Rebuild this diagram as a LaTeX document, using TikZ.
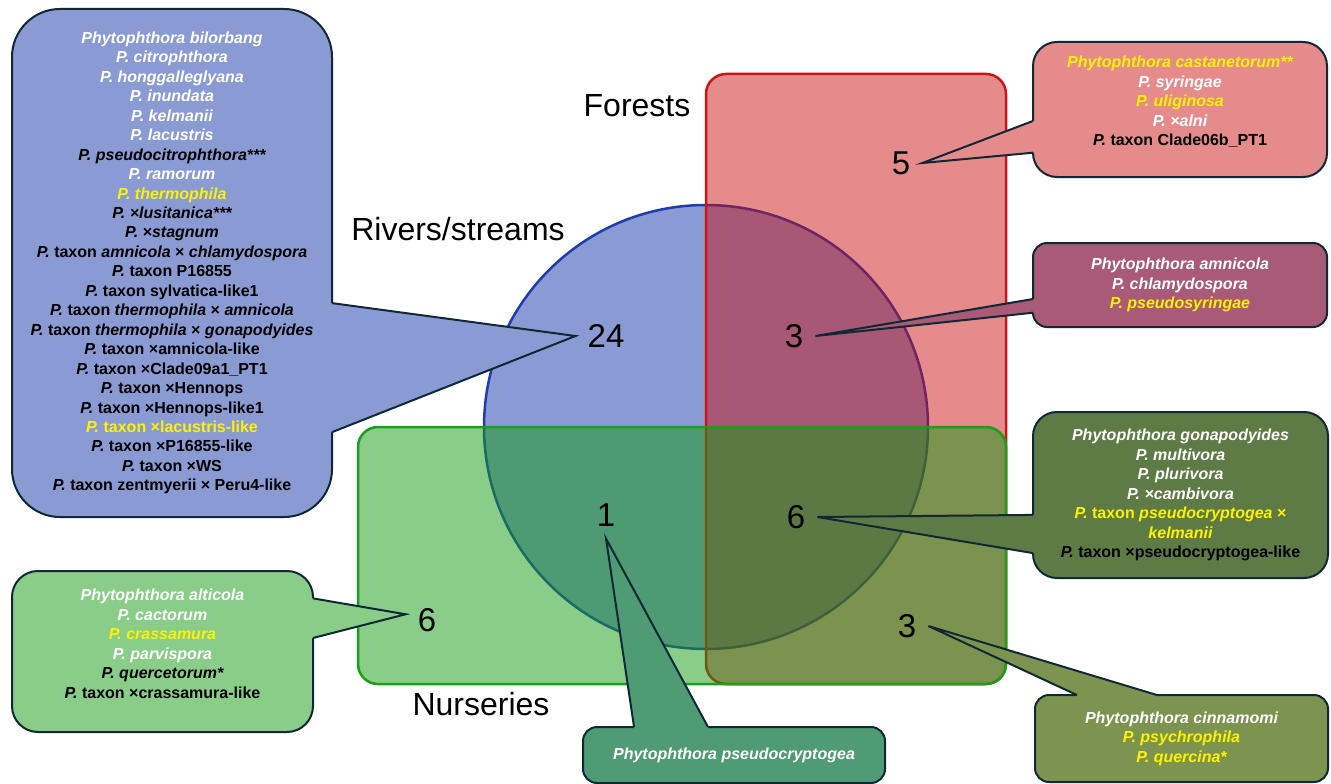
\documentclass[tikz,border=0pt]{standalone}
\usepackage{fontspec}
\setmainfont{Liberation Sans}
\usepackage{tikz}
\usetikzlibrary{calc}

\definecolor{edgecol}{RGB}{16,40,54}
\definecolor{rivline}{RGB}{30,60,180}
\definecolor{forline}{RGB}{205,20,20}
\definecolor{nurline}{RGB}{25,160,25}
\definecolor{rivfill}{RGB}{138,155,212}
\definecolor{forbase}{RGB}{201,13,13}
\definecolor{nurbase}{RGB}{19,156,19}
\definecolor{forfill}{RGB}{229,139,139}
\definecolor{nurfill}{RGB}{137,205,137}
\definecolor{rivforfill}{RGB}{168,90,118}
\definecolor{rivnurfill}{RGB}{78,155,116}
\definecolor{fornurfill}{RGB}{125,148,80}
\definecolor{allfill}{RGB}{94,123,69}

\newcommand{\spfont}{\fontsize{16}{19.45}\selectfont\bfseries\itshape}
\newcommand{\ylw}[1]{{\color{yellow}#1}}
\newcommand{\blk}[1]{{\color{black}#1}}
\newcommand{\up}[1]{\textup{#1}}
\newcommand{\tx}{\textup{taxon}}
\newcommand{\callpointer}[5]{%
  \fill[#1] ($(#2)+(#5)$) -- (#2) -- (#3) -- (#4) -- ($(#4)+(#5)$) -- cycle;
  \draw[callout line] (#2) -- (#3) -- (#4);}

\begin{document}
\begin{tikzpicture}[x=1pt,y=-1pt,
    callout line/.style={draw=edgecol, line width=2pt},
    listbox/.style={callout line, align=center, font=\spfont, text=white, outer sep=0pt, inner sep=4pt},
    count/.style={font=\fontsize{33}{40}\selectfont, inner sep=12pt},
    setlabel/.style={font=\fontsize{32}{38}\selectfont}]
  \useasboundingbox (0,0) rectangle (1331,784);

  \filldraw[fill=rivfill, draw=rivline, line width=2.5pt] (706,427) circle[radius=222pt];
  \filldraw[fill=forbase, fill opacity=0.48, draw=forline, line width=2.5pt, rounded corners=20pt] (706,74) rectangle (1006,684);
  \filldraw[fill=nurbase, fill opacity=0.5, draw=nurline, line width=2.5pt, rounded corners=20pt] (358,427) rectangle (1006,684);

  \node[setlabel] (forlab) at (637,106) {Forests};
  \node[setlabel] (rivlab) at (458,229) {Rivers/streams};
  \node[setlabel] (nurlab) at (481,704) {Nurseries};

  \node[count] (nfor) at (901,163) {5};
  \node[count] (nriv) at (606,336) {24};
  \node[count] (nrivfor) at (794,336) {3};
  \node[count] (nrivnur) at (606,515) {1};
  \node[count] (nall) at (796,517) {6};
  \node[count] (nnur) at (427,620) {6};
  \node[count] (nfornur) at (907,626) {3};

  \node[listbox, fill=rivfill, rounded corners=48pt, minimum width=320pt, minimum height=508pt] (rivbox) at (172,263) {%
    Phytophthora bilorbang\\
    P. citrophthora\\
    P. honggalleglyana\\
    P. inundata\\
    P. kelmanii\\
    P. lacustris\\
    \blk{P. pseudocitrophthora***}\\
    P. ramorum\\
    \ylw{P. thermophila}\\
    \blk{P. ×lusitanica***}\\
    \blk{P. ×stagnum}\\
    \blk{P. \tx{} amnicola \up{×} chlamydospora}\\
    \blk{P. \up{taxon P16855}}\\
    \blk{P. \up{taxon sylvatica-like1}}\\
    \blk{P. \tx{} thermophila \up{×} amnicola}\\
    \blk{P. \tx{} thermophila \up{×} gonapodyides}\\
    \blk{P. \up{taxon ×amnicola-like}}\\
    \blk{P. \up{taxon ×Clade09a1\_PT1}}\\
    \blk{P. \up{taxon ×Hennops}}\\
    \blk{P. \up{taxon ×Hennops-like1}}\\
    \ylw{P. \up{taxon ×lacustris-like}}\\
    \blk{P. \up{taxon ×P16855-like}}\\
    \blk{P. \up{taxon ×WS}}\\
    \blk{P. \up{taxon zentmyerii × Peru4-like}}};
  \node[listbox, fill=forfill, rounded corners=24pt, minimum width=294pt, minimum height=135pt, text depth=17pt] (forbox) at (1180,109.5) {%
    \ylw{Phytophthora castanetorum**}\\
    P. syringae\\
    \ylw{P. uliginosa}\\
    P. ×alni\\
    \blk{P. \up{taxon Clade06b\_PT1}}};
  \node[listbox, fill=rivforfill, rounded corners=14pt, minimum width=294pt, minimum height=84pt] (rivforbox) at (1180,285) {%
    Phytophthora amnicola\\
    P. chlamydospora\\
    \ylw{P. pseudosyringae}};
  \node[listbox, fill=allfill, rounded corners=24pt, minimum width=295pt, minimum height=166pt] (allbox) at (1180.5,495) {%
    Phytophthora gonapodyides\\
    P. multivora\\
    P. plurivora\\
    P. ×cambivora\\
    \ylw{P. \tx{} pseudocryptogea \up{×}}\\
    \ylw{kelmanii}\\
    \blk{P. \up{taxon ×pseudocryptogea-like}}};
  \node[listbox, fill=nurfill, rounded corners=26pt, minimum width=301pt, minimum height=161pt, text depth=15.5pt] (nurbox) at (162.5,651.5) {%
    Phytophthora alticola\\
    P. cactorum\\
    \ylw{P. crassamura}\\
    P. parvispora\\
    \blk{P. quercetorum*}\\
    \blk{P. \up{taxon ×crassamura-like}}};
  \node[listbox, fill=rivnurfill, rounded corners=14pt, minimum width=302pt, minimum height=56pt] (rivnurbox) at (734,755) {%
    Phytophthora pseudocryptogea};
  \node[listbox, fill=fornurfill, rounded corners=14pt, minimum width=293pt, minimum height=87pt] (fornurbox) at (1181.5,738.5) {%
    Phytophthora cinnamomi\\
    \ylw{P. psychrophila}\\
    \ylw{P. quercina*}};

  \coordinate (riv-a) at ($(rivbox.north east)!0.579!(rivbox.south east)$);
  \coordinate (riv-b) at ($(rivbox.north east)!0.833!(rivbox.south east)$);
  \coordinate (for-a) at ($(forbox.north west)!0.585!(forbox.south west)$);
  \coordinate (for-b) at ($(forbox.north west)!0.82!(forbox.south west)$);
  \coordinate (rivfor-a) at ($(rivforbox.north west)!0.667!(rivforbox.south west)$);
  \coordinate (rivfor-b) at ($(rivforbox.north west)!0.83!(rivforbox.south west)$);
  \coordinate (all-a) at ($(allbox.north west)!0.62!(allbox.south west)$);
  \coordinate (all-b) at ($(allbox.north west)!0.85!(allbox.south west)$);
  \coordinate (nur-a) at ($(nurbox.north east)!0.17!(nurbox.south east)$);
  \coordinate (nur-b) at ($(nurbox.north east)!0.416!(nurbox.south east)$);
  \coordinate (rivnur-a) at ($(rivnurbox.north west)!0.169!(rivnurbox.north east)$);
  \coordinate (rivnur-b) at ($(rivnurbox.north west)!0.414!(rivnurbox.north east)$);
  \coordinate (fornur-a) at ($(fornurbox.north west)!0.143!(fornurbox.north east)$);
  \coordinate (fornur-b) at ($(fornurbox.north west)!0.416!(fornurbox.north east)$);

  \callpointer{rivfill}{riv-a}{nriv.west}{riv-b}{-3,0}
  \callpointer{forfill}{for-a}{nfor.east}{for-b}{3,0}
  \callpointer{rivforfill}{rivfor-a}{nrivfor.east}{rivfor-b}{3,0}
  \callpointer{allfill}{all-a}{nall.east}{all-b}{3,0}
  \callpointer{nurfill}{nur-a}{nnur.165}{nur-b}{-3,0}
  \callpointer{rivnurfill}{rivnur-a}{nrivnur.south}{rivnur-b}{0,3}
  \callpointer{fornurfill}{fornur-a}{nfornur.east}{fornur-b}{0,3}
\end{tikzpicture}
\end{document}
